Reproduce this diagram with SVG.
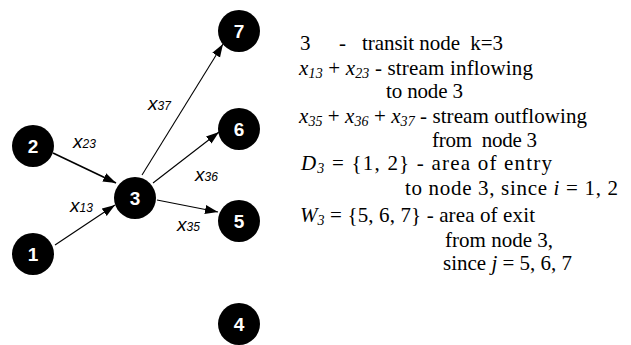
<svg xmlns="http://www.w3.org/2000/svg" width="631" height="345" viewBox="0 0 631 345">
<style>
.node circle{fill:#000}
.node text{font-family:"Liberation Sans",Arial,sans-serif;font-weight:bold;font-size:19px;fill:#fff;text-anchor:middle}
.edge{stroke:#000;stroke-width:1.1;fill:none;marker-end:url(#ah)}
.lbl{font-family:"Liberation Sans",Arial,sans-serif;font-style:italic;font-size:19px;fill:#000}
.lbl .s{font-size:12px}
.t{font-family:"Liberation Serif","Times New Roman","DejaVu Serif",serif;font-size:21px;fill:#000}
.i{font-style:italic}
.sub{font-style:italic;font-size:14px}
</style>
<defs>
<marker id="ah" markerUnits="userSpaceOnUse" markerWidth="14" markerHeight="10" refX="13" refY="4.5" orient="auto">
<path d="M0,0 L13,4.5 L0,9 z" fill="#000"/>
</marker>
</defs>
<g id="connectors">
<line class="edge" x1="53" y1="153" x2="116" y2="183" style="stroke-width:1.6"/>
<line class="edge" x1="55" y1="245" x2="115" y2="205"/>
<line class="edge" x1="142" y1="175" x2="223" y2="44"/>
<line class="edge" x1="153" y1="183" x2="219" y2="132"/>
<line class="edge" x1="157" y1="200" x2="218" y2="212"/>
</g>
<g id="labels">
<text class="lbl" x="73" y="148">x<tspan class="s">23</tspan></text>
<text class="lbl" x="70" y="212">x<tspan class="s">13</tspan></text>
<text class="lbl" x="148" y="110">x<tspan class="s">37</tspan></text>
<text class="lbl" x="195" y="181">x<tspan class="s">36</tspan></text>
<text class="lbl" x="177" y="231">x<tspan class="s">35</tspan></text>
</g>
<g id="node1" class="node"><circle cx="33" cy="254" r="21"/><text x="33" y="261">1</text></g>
<g id="node2" class="node"><circle cx="33" cy="146" r="21"/><text x="33" y="153">2</text></g>
<g id="node3" class="node"><circle cx="135" cy="198" r="21"/><text x="135" y="205">3</text></g>
<g id="node4" class="node"><circle cx="239" cy="324" r="21"/><text x="239" y="331">4</text></g>
<g id="node5" class="node"><circle cx="239" cy="221" r="21"/><text x="239" y="228">5</text></g>
<g id="node6" class="node"><circle cx="239" cy="129" r="21"/><text x="239" y="136">6</text></g>
<g id="node7" class="node"><circle cx="239" cy="31" r="21"/><text x="239" y="38">7</text></g>
<g id="legend">
<text class="t" x="300" y="50">3</text>
<text class="t" x="339" y="50">-</text>
<text class="t" x="362" y="50" xml:space="preserve" textLength="141">transit node  k=3</text>
<text class="t" x="299" y="75" textLength="234"><tspan class="i">x</tspan><tspan class="sub" dy="3">13</tspan><tspan dy="-3"> + </tspan><tspan class="i">x</tspan><tspan class="sub" dy="3">23</tspan><tspan dy="-3"> - stream inflowing</tspan></text>
<text class="t" x="386" y="98" textLength="77">to node 3</text>
<text class="t" x="299" y="123" textLength="288"><tspan class="i">x</tspan><tspan class="sub" dy="3">35</tspan><tspan dy="-3"> + </tspan><tspan class="i">x</tspan><tspan class="sub" dy="3">36</tspan><tspan dy="-3"> + </tspan><tspan class="i">x</tspan><tspan class="sub" dy="3">37</tspan><tspan dy="-3"> - stream outflowing</tspan></text>
<text class="t" x="432" y="147" xml:space="preserve" textLength="105">from  node 3</text>
<text class="t" x="301" y="170" textLength="251"><tspan class="i">D</tspan><tspan class="sub" dy="3">3</tspan><tspan dy="-3"> = {1, 2} - area of entry</tspan></text>
<text class="t" x="405" y="195" textLength="213">to node 3, since <tspan class="i">i</tspan> = 1, 2</text>
<text class="t" x="300" y="222" textLength="235"><tspan class="i">W</tspan><tspan class="sub" dy="3">3</tspan><tspan dy="-3"> = {5, 6, 7} - area of exit</tspan></text>
<text class="t" x="445" y="247" textLength="108">from node 3,</text>
<text class="t" x="443" y="270" textLength="129">since <tspan class="i">j</tspan> = 5, 6, 7</text>
</g>
</svg>
